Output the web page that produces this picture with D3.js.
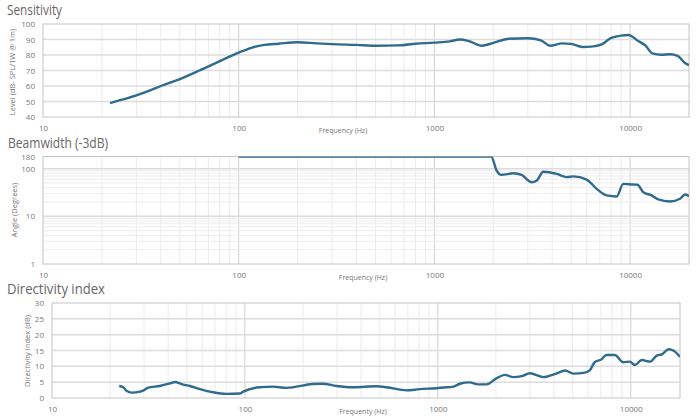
<!DOCTYPE html>
<html><head><meta charset="utf-8">
<script src="https://cdn.jsdelivr.net/npm/d3@7"></script>
<style>body{margin:0;background:#fff}svg text{font-family:"Open Sans",sans-serif}</style>
</head><body><svg id="c" width="700" height="420"></svg>
<script>
// ---- data ----
const freqTicks = [10, 100, 1000, 10000];
const sensTicks = [40, 50, 60, 70, 80, 90, 100];
const beamTicks = [1, 10, 100, 180];
const diTicks = [0, 5, 10, 15, 20, 25, 30];

const sensFreq = [22,25,30,35,40,50,63,80,100,115,135,160,200,250,300,400,500,650,800,1000,1200,1350,1500,1750,2000,2400,3000,3500,3900,4500,5000,5700,6500,7200,8000,9000,9800,11000,12000,13000,14500,16000,17500,19000,20000];
const sensVal  = [49,51,54,57,60,64.5,70,76,81.5,84.5,86.5,87.3,88.2,87.5,87,86.5,86,86.2,87.3,88,88.8,90,89,86,87.8,90.5,90.8,89.5,86,87.5,87.2,85.2,85.6,87,91,92.5,92.9,89,86,81,80.2,80.5,79.5,75,73.5];

const beamFreq = [100,300,1000,1800,1950,2080,2200,2530,2790,3130,3330,3600,4220,4740,5130,6000,6750,7590,8540,9230,10380,10900,11680,12890,13930,15990,17990,19080,20000];
const beamVal  = [180,180,180,180,180,91,74,80,74,52,56,86,77.5,66.5,69,59,37.7,27.5,26.1,47.9,46.4,46,32,27.5,22.6,20.5,23.4,28.7,26.5];

const diFreq = [22.3,23.4,24.4,25.9,28.6,30,31.5,36.2,40.9,43.4,46.9,51.9,58.5,68.4,80.3,94,98,119,140,164,225,253,298,364,482,543,688,806,981,1066,1205,1300,1460,1617,1787,2010,2225,2460,2720,3000,3520,4140,4560,5030,5780,6130,6500,7050,7480,8270,9120,9900,10500,11400,12600,13650,14500,15730,16700,18000];
const diVal  = [3.8,3.4,2.2,1.7,2.0,2.5,3.3,3.8,4.6,5.05,4.4,3.8,2.8,1.8,1.3,1.4,2.0,3.4,3.6,3.2,4.4,4.5,3.8,3.4,3.7,3.4,2.4,2.8,3.1,3.3,3.6,4.5,4.95,4.3,4.3,6.2,7.3,6.6,6.9,7.8,6.6,7.8,8.7,7.7,8.0,8.7,11.3,12.2,13.6,13.6,11.3,11.5,10.4,12.0,11.5,13.4,13.8,15.4,14.9,13.0];

// ---- drawing ----
const svg = d3.select("#c");
const defs = svg.append("defs");
const LINE = "#2f6b8c";
let pid = 0;

function panel(o) {
  const g = svg.append("g");
  const x = d3.scaleLog().domain([10, o.xmax]).range([o.left, o.right]);
  const y = (o.ylog ? d3.scaleLog() : d3.scaleLinear()).domain(o.ydom).range([o.bottom, o.top]);
  const cid = "clip" + (pid++);
  defs.append("clipPath").attr("id", cid).append("rect")
    .attr("x", o.left).attr("y", o.top).attr("width", o.right - o.left).attr("height", o.bottom - o.top);

  // vertical grid
  const vmin = [];
  for (let d = 10; d <= 10000; d *= 10) for (let k = 1; k <= 9; k++) { const f = k * d; if (f > 10 && f < o.xmax) vmin.push({f, major: k === 1}); }
  g.selectAll(".vg").data(vmin).enter().append("line")
    .attr("x1", d => x(d.f)).attr("x2", d => x(d.f)).attr("y1", o.top).attr("y2", o.bottom)
    .attr("stroke", d => d.major ? "#cfcfcf" : "#ececec").attr("stroke-width", 1);

  // horizontal grid
  let hg = [];
  if (o.ylog) {
    for (let d = 1; d <= 100; d *= 10) for (let k = 1; k <= 9; k++) { const v = k * d; if (v > 1 && v < 180) hg.push({v, major: k === 1}); }
  } else {
    hg = o.yticks.slice(1, -1).map(v => ({v, major: true}));
  }
  g.selectAll(".hg").data(hg).enter().append("line")
    .attr("x1", o.left).attr("x2", o.right).attr("y1", d => y(d.v)).attr("y2", d => y(d.v))
    .attr("stroke", d => d.major ? "#dcdcdc" : "#ededed").attr("stroke-width", d => d.major ? 1.5 : 1);

  // border
  g.append("rect").attr("x", o.left).attr("y", o.top).attr("width", o.right - o.left).attr("height", o.bottom - o.top)
    .attr("fill", "none").attr("stroke", "#c4c4c4").attr("stroke-width", 1);

  // axes
  const xa = g.append("g").attr("transform", `translate(0,${o.bottom + o.xtickGap})`)
    .call(d3.axisBottom(x).tickValues(freqTicks).tickFormat(d3.format("d")).tickSize(0));
  xa.select(".domain").remove();
  xa.selectAll("text").attr("fill", "#777").style("font-size", "8px");

  const ya = g.append("g").attr("transform", `translate(${o.left - 5},0)`)
    .call(d3.axisLeft(y).tickValues(o.yticks).tickFormat(d3.format("d")).tickSize(0));
  ya.select(".domain").remove();
  ya.selectAll("text").attr("fill", "#777").style("font-size", "8px");

  // titles
  g.append("text").attr("x", o.titleX).attr("y", o.titleY).text(o.title)
    .attr("fill", "#666").style("font-size", "14.5px")
    .attr("textLength", o.titleW).attr("lengthAdjust", "spacingAndGlyphs");
  g.append("text").attr("x", o.xlabX).attr("y", o.xlabY).attr("text-anchor", "middle").text(o.xlab)
    .attr("fill", "#777").style("font-size", "7px");
  g.append("text").attr("transform", `translate(${o.ylabX},${o.ylabY}) rotate(-90)`).attr("text-anchor", "middle")
    .text(o.ylab).attr("fill", "#777").style("font-size", "7.5px");

  // line
  const line = d3.line().x(d => x(d[0])).y(d => y(d[1])).curve(d3.curveMonotoneX);
  g.append("path").datum(d3.zip(o.fx, o.fy)).attr("d", line).attr("clip-path", `url(#${cid})`)
    .attr("fill", "none").attr("stroke", LINE).attr("stroke-width", 2.4).attr("stroke-linejoin", "round");
}

panel({left: 43, right: 689, top: 24, bottom: 117, xmax: 20000, ydom: [40, 100], yticks: sensTicks, ylog: false, xtickGap: 5,
  title: "Sensitivity", titleW: 55, titleX: 7, titleY: 15, xlab: "Frequency (Hz)", xlabX: 343, xlabY: 133,
  ylab: "Level (dB- SPL/1W @ 1m)", ylabX: 15, ylabY: 72, fx: sensFreq, fy: sensVal});

panel({left: 43, right: 689, top: 156.5, bottom: 264, xmax: 20000, ydom: [1, 180], yticks: beamTicks, ylog: true, xtickGap: 5,
  title: "Beamwidth (-3dB)", titleW: 100, titleX: 8, titleY: 148, xlab: "Frequency (Hz)", xlabX: 363, xlabY: 280,
  ylab: "Angle (Degrees)", ylabX: 17, ylabY: 210, fx: beamFreq, fy: beamVal});

panel({left: 52, right: 680, top: 303, bottom: 398, xmax: 18000, ydom: [0, 30], yticks: diTicks, ylog: false, xtickGap: 5,
  title: "Directivity index", titleW: 98, titleX: 7, titleY: 294, xlab: "Frequenty (Hz)", xlabX: 363, xlabY: 414,
  ylab: "Directivity Index (dB)", ylabX: 30, ylabY: 351, fx: diFreq, fy: diVal});
</script></body></html>
